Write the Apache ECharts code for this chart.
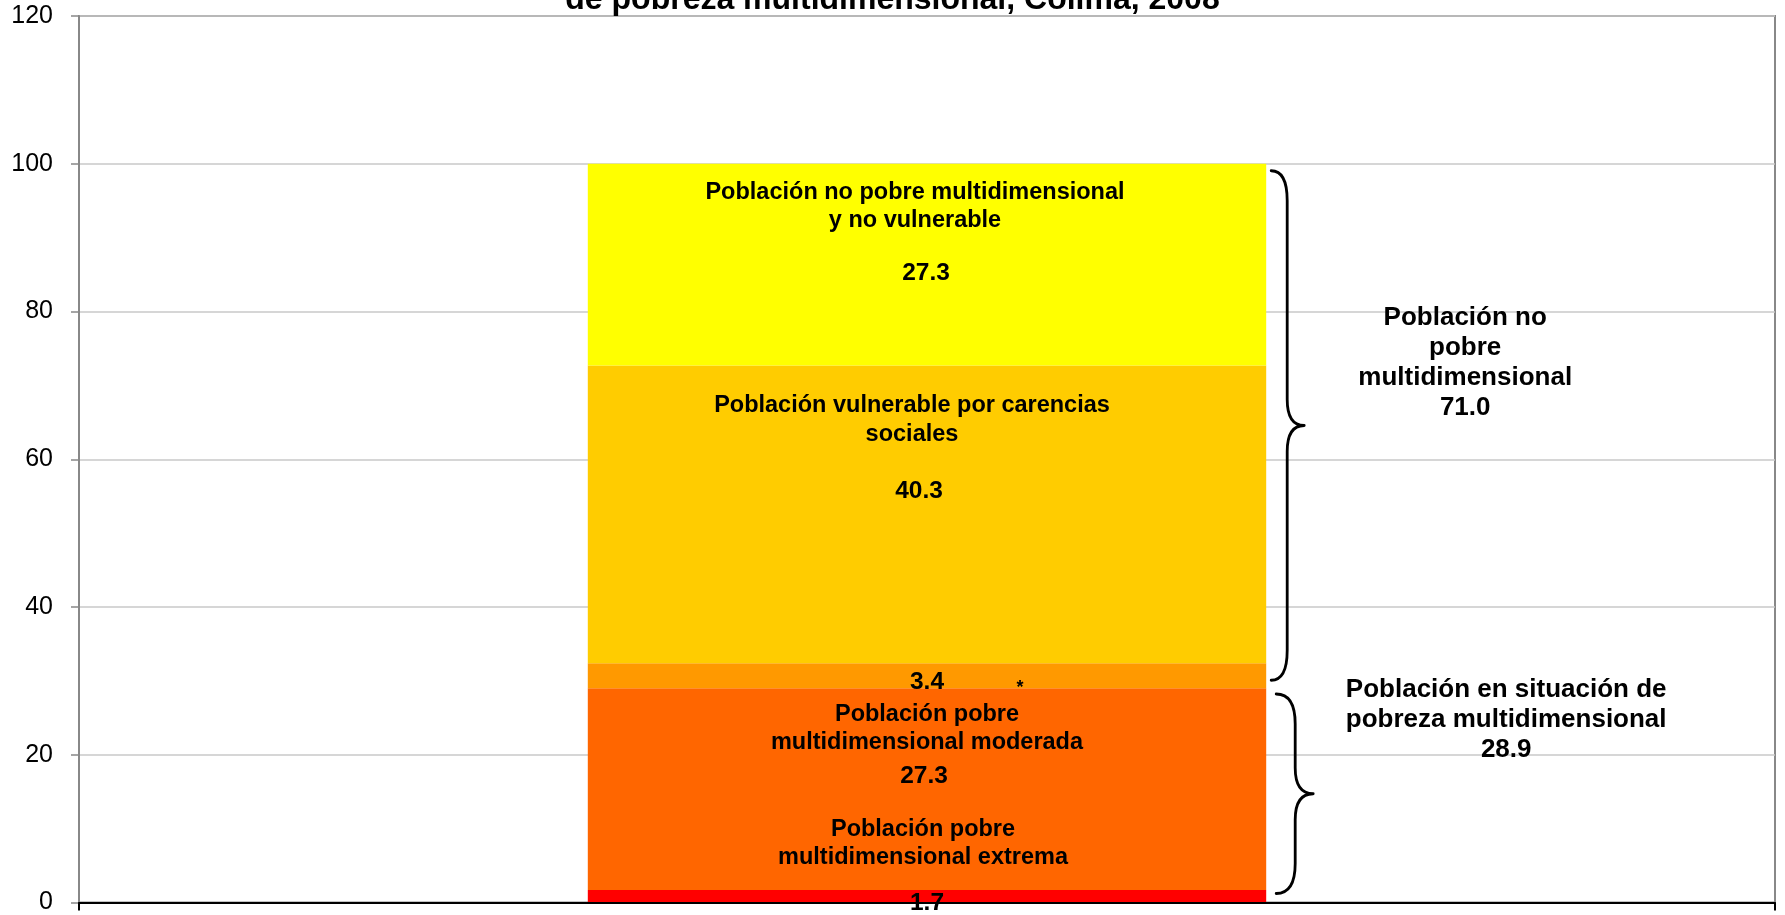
<!DOCTYPE html>
<html>
<head>
<meta charset="utf-8">
<title>Pobreza multidimensional, Colima, 2008</title>
<script src="https://cdn.jsdelivr.net/npm/echarts@6/dist/echarts.min.js"></script>
<style>
  html, body { margin: 0; padding: 0; background: #ffffff; }
  #chart { width: 1785px; height: 915px; }
</style>
</head>
<body>
<div id="chart"></div>
<script>
  // data
  const titleText = 'de pobreza multidimensional, Colima, 2008';
  const categories = [''];
  const segmentNames = [
    'Población pobre multidimensional extrema',
    'Población pobre multidimensional moderada',
    'Población vulnerable por ingresos',
    'Población vulnerable por carencias sociales',
    'Población no pobre multidimensional y no vulnerable'
  ];
  const segmentValues = [1.7, 27.3, 3.4, 40.3, 27.3];
  const segmentText = [
    'Población pobre\nmultidimensional extrema',
    'Población pobre\nmultidimensional moderada',
    '',
    'Población vulnerable por carencias\nsociales',
    'Población no pobre multidimensional\ny no vulnerable'
  ];
  const footnoteMark = '*';
  const yMin = 0;
  const yMax = 120;
  const yStep = 20;
  const braceFrom = [29.0, 0];
  const braceTo = [100, 28.9];
  const braceText = ['Población no\npobre\nmultidimensional', 'Población en situación de\npobreza multidimensional'];
  const braceValues = [71.0, 28.9];

  const FONT = '"Liberation Sans", Arial, Helvetica, sans-serif';
  const colors = ['#ff0000', '#ff6600', '#ff9900', '#ffcc00', '#ffff00'];

  // where each segment's label sits (textShift / valueShift: px to the left)
  const labelPlace = [
    { position: 'inside', offset: [0, -21], valueHeight: 63, textShift: 4, valueShift: 0 },
    { position: 'insideTop', distance: 12, valueHeight: 37, textShift: 0, valueShift: 3 },
    { position: 'inside', offset: [0, 7] },
    { position: 'insideTop', distance: 26, valueHeight: 86, textShift: 15, valueShift: 8 },
    { position: 'insideTop', distance: 14.5, valueHeight: 76, textShift: 12, valueShift: 1 }
  ];

  // per brace: hook / spine / tip offsets from bar edge, end insets, text offset
  const bracePlace = [
    { hook: 5, spine: 21, tip: 38, insetTop: 7, insetBottom: 8, textDx: 199, textDy: -63 },
    { hook: 10, spine: 29, tip: 47, insetTop: 5, insetBottom: 9, textDx: 240, textDy: -74 }
  ];

  const barSeries = segmentValues.map(function (v, i) {
    const place = labelPlace[i];
    const label = {
      show: true,
      position: place.position,
      color: '#000',
      fontFamily: FONT,
      fontWeight: 'bold',
      formatter: function (p) {
        const val = p.value.toFixed(1);
        if (!segmentText[i]) {
          return '{pad|}{v|' + val + '}{gap|}{s|' + footnoteMark + '}';
        }
        const lines = segmentText[i].split('\n').map(function (t) { return '{t|' + t + '}'; });
        return lines.join('\n') + '\n{v|' + val + '}';
      },
      rich: {
        t: {
          fontSize: 23.5, lineHeight: 28.5, fontWeight: 'bold', color: '#000', fontFamily: FONT,
          padding: [0, 2 * (place.textShift || 0), 0, 0]
        },
        v: {
          fontSize: 24.5, lineHeight: place.valueHeight || 30, fontWeight: 'bold', color: '#000', fontFamily: FONT,
          padding: [0, 2 * (place.valueShift || 0), 0, 0]
        },
        pad: { width: 81 },
        gap: { width: 71 },
        s: { width: 10, align: 'center', fontSize: 18, fontWeight: 'bold', color: '#000', fontFamily: FONT, padding: [10, 0, 0, 0] }
      }
    };
    if (place.offset) label.offset = place.offset;
    if (place.distance != null) label.distance = place.distance;
    return {
      name: segmentNames[i],
      type: 'bar',
      stack: 'total',
      barWidth: '40%',
      itemStyle: { color: colors[i] },
      label: label,
      emphasis: { disabled: true },
      data: [v],
      z: 3
    };
  });

  const braceData = braceFrom.map(function (f, i) { return [0, f, braceTo[i]]; });

  function renderBrace(params, api) {
    const i = params.dataIndex;
    const bp = bracePlace[i];
    const top = api.coord([api.value(0), api.value(2)]);
    const bot = api.coord([api.value(0), api.value(1)]);
    const band = api.size([1, 0])[0];
    const edge = top[0] + band * 0.2;
    const hx = edge + bp.hook, sx = edge + bp.spine, tx = edge + bp.tip;
    const y0 = top[1] + bp.insetTop;
    const y1 = bot[1] - bp.insetBottom;
    const ym = (y0 + y1) / 2;
    const r = 30;   // end hooks
    const q = 26;   // middle point
    const d = 'M' + hx + ' ' + y0 +
      ' Q' + sx + ' ' + y0 + ' ' + sx + ' ' + (y0 + r) +
      ' L' + sx + ' ' + (ym - q) +
      ' Q' + sx + ' ' + ym + ' ' + tx + ' ' + ym +
      ' Q' + sx + ' ' + ym + ' ' + sx + ' ' + (ym + q) +
      ' L' + sx + ' ' + (y1 - r) +
      ' Q' + sx + ' ' + y1 + ' ' + hx + ' ' + y1;
    return {
      type: 'group',
      children: [
        {
          type: 'path',
          shape: { pathData: d },
          style: { stroke: '#000', fill: null, lineWidth: 2.8, lineJoin: 'round', lineCap: 'round' }
        },
        {
          type: 'text',
          x: edge + bp.textDx,
          y: ym + bp.textDy,
          style: {
            text: braceText[i] + '\n' + braceValues[i].toFixed(1),
            fill: '#000',
            fontSize: 26,
            fontWeight: 'bold',
            fontFamily: FONT,
            lineHeight: 30,
            align: 'center',
            verticalAlign: 'middle'
          }
        }
      ]
    };
  }

  const myChart = echarts.init(document.getElementById('chart'));
  const option = {
    animation: false,
    backgroundColor: '#ffffff',
    title: {
      text: titleText,
      left: 'center',
      top: -16,
      padding: 0,
      textStyle: { fontSize: 32, fontWeight: 'bold', color: '#000', fontFamily: FONT, lineHeight: 32 }
    },
    grid: {
      left: 79,
      right: 10,
      top: 16,
      bottom: 12,
      show: true,
      borderColor: '#888888',
      borderWidth: 2,
      backgroundColor: 'transparent'
    },
    xAxis: {
      type: 'category',
      data: categories,
      axisLine: { lineStyle: { color: '#000', width: 2 } },
      axisTick: { show: true, length: 8, lineStyle: { color: '#000', width: 2 } },
      axisLabel: { show: false },
      splitLine: { show: false },
      z: 4
    },
    yAxis: {
      type: 'value',
      min: yMin,
      max: yMax,
      interval: yStep,
      axisLine: { show: true, lineStyle: { color: '#888888', width: 2 } },
      axisTick: { show: true, length: 8, lineStyle: { color: '#888888', width: 1.5 } },
      axisLabel: { fontSize: 25, color: '#000', fontFamily: FONT, margin: 26 },
      splitLine: { show: true, lineStyle: { color: '#c8c8c8', width: 1.5 } }
    },
    series: barSeries.concat([{
      name: 'llaves',
      type: 'custom',
      renderItem: renderBrace,
      encode: { x: 0, y: [1, 2] },
      data: braceData,
      silent: true,
      z: 5
    }])
  };
  option && myChart.setOption(option);
</script>
</body>
</html>
